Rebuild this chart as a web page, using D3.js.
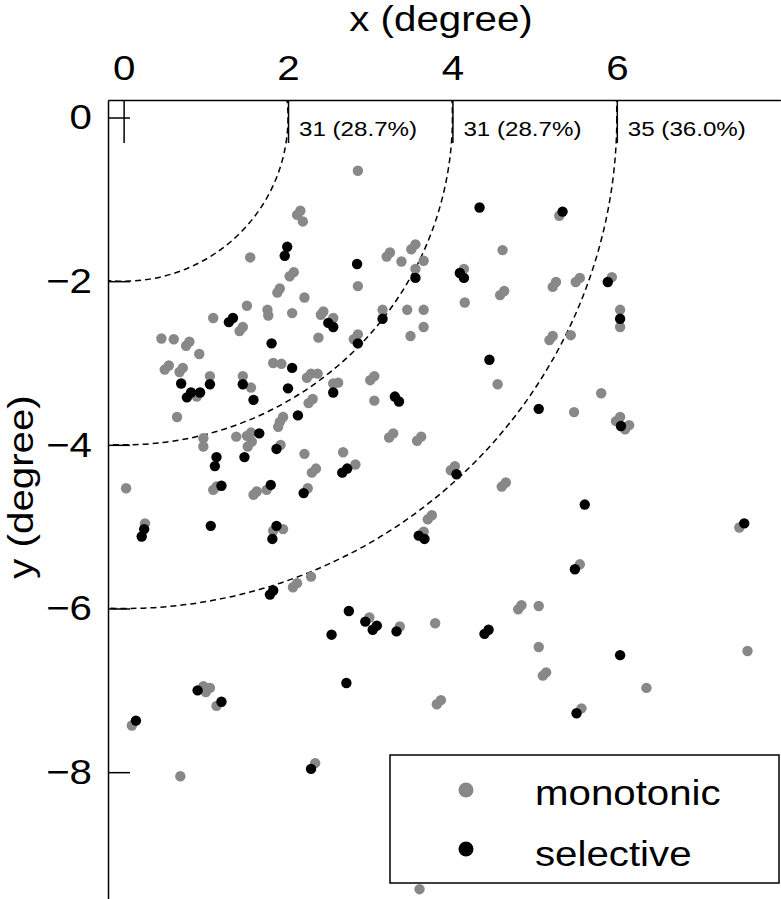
<!DOCTYPE html>
<meta charset="utf-8">

<!-- Load d3.js -->
<script src="https://d3js.org/d3.v7.min.js"></script>

<style>
    body { margin: 0; background: #fff; }
    text { font-family: "Liberation Sans", Arial, sans-serif; }
</style>

<body>
    <div id="scatter"></div>
</body>

<script>

    // monotonic cells (gray), position in degree
    var monoX = [2.15, 2.11, 2.18, 1.54, 2.07, 2.02, 1.90, 1.87, 2.20, 1.50, 1.75, 1.76, 2.05, 1.09, 1.45, 1.41,
        2.43, 2.40, 2.37, 0.46, 0.61, 0.80, 0.76, 0.92, 2.85, 4.61, 2.85, 3.24, 3.20, 3.38, 3.55, 3.50,
        3.65, 3.55, 4.14, 4.15, 4.63, 4.58, 5.26, 5.22, 2.55, 3.15, 3.45, 3.65, 3.65, 3.49, 2.85, 2.80,
        5.30, 5.55, 5.50, 5.94, 6.04, 6.04, 5.22, 5.18, 5.44, 0.55, 0.50, 0.72, 0.68, 1.05, 0.89, 1.45,
        1.55, 1.82, 1.92, 2.23, 2.28, 2.36, 2.25, 2.30, 0.65, 1.94, 1.90, 1.88, 0.97, 0.97, 1.37, 1.50,
        1.55, 1.56, 1.51, 1.91, 2.20, 2.34, 2.29, 0.03, 1.09, 1.13, 1.62, 1.58, 1.74, 2.24, 0.26, 1.82,
        1.94, 4.55, 2.55, 2.61, 3.05, 3.00, 3.05, 3.28, 3.23, 3.62, 3.57, 2.67, 2.82, 4.03, 3.98, 4.65,
        4.60, 3.75, 3.70, 3.65, 5.81, 5.48, 6.04, 5.99, 6.15, 6.10, 7.49, 2.11, 2.06, 2.28, 0.97, 1.05,
        1.00, 1.13, 0.10, 2.99, 3.36, 3.79, 4.84, 4.80, 5.05, 5.05, 5.14, 5.10, 3.86, 3.81, 5.55, 6.36,
        7.59, 5.57, 0.69, 2.33, 3.60];
    var monoY = [-1.14, -1.19, -1.27, -1.71, -1.89, -1.94, -2.09, -2.14, -2.20, -2.30, -2.35, -2.42, -2.39, -2.45, -2.56, -2.61,
        -2.37, -2.41, -2.69, -2.70, -2.71, -2.74, -2.79, -2.89, -0.65, -1.62, -2.06, -1.65, -1.70, -1.76, -1.55, -1.61,
        -1.75, -1.85, -1.85, -2.26, -2.12, -2.17, -2.01, -2.07, -2.45, -2.35, -2.35, -2.35, -2.56, -2.67, -2.65, -2.71,
        -1.20, -1.96, -2.01, -1.95, -2.35, -2.56, -2.67, -2.72, -2.66, -3.03, -3.08, -3.06, -3.11, -3.16, -3.41, -3.16,
        -3.30, -3.00, -3.01, -3.18, -3.13, -3.13, -3.49, -3.44, -3.66, -3.66, -3.72, -3.78, -3.92, -4.02, -3.90, -3.89,
        -3.85, -3.96, -4.02, -4.00, -4.11, -4.29, -4.34, -4.53, -4.55, -4.51, -4.57, -4.61, -4.55, -4.53, -4.96, -5.05,
        -5.03, -3.26, -3.25, -3.24, -3.16, -3.21, -3.46, -3.86, -3.91, -3.90, -3.95, -4.09, -4.24, -4.26, -4.31, -4.46,
        -4.51, -4.86, -4.91, -5.06, -3.37, -3.60, -3.66, -3.71, -3.76, -3.81, -5.01, -5.69, -5.74, -5.61, -6.95, -6.97,
        -7.02, -7.19, -7.43, -6.11, -6.22, -6.18, -5.96, -6.01, -5.97, -6.47, -6.78, -6.82, -7.12, -7.17, -5.46, -6.97,
        -6.52, -7.22, -8.05, -7.89, -9.43];

    // selective cells (black)
    var selX = [1.99, 1.96, 1.33, 1.28, 2.49, 1.80, 4.33, 2.84, 3.55, 4.09, 4.14, 2.55, 3.15, 2.85, 5.34, 5.89,
        6.04, 1.05, 0.70, 0.82, 0.77, 0.93, 1.45, 1.58, 2.05, 2.00, 2.55, 2.12, 1.65, 1.86, 1.13, 1.11,
        1.47, 1.19, 1.79, 2.19, 1.06, 0.25, 0.22, 1.86, 1.81, 4.45, 5.05, 3.30, 3.35, 2.72, 2.66, 4.05,
        3.59, 3.66, 6.05, 5.61, 7.55, 1.82, 1.78, 0.90, 1.19, 0.15, 2.74, 2.94, 3.08, 3.03, 3.32, 2.53,
        4.44, 4.39, 2.71, 5.49, 6.04, 5.51, 2.28];
    var selY = [-1.58, -1.69, -2.45, -2.50, -2.51, -2.76, -1.10, -1.79, -1.96, -1.90, -1.96, -2.56, -2.46, -2.76, -1.15, -2.01,
        -2.46, -3.26, -3.25, -3.36, -3.42, -3.36, -3.26, -3.45, -3.06, -3.31, -3.36, -3.64, -3.86, -4.05, -4.15, -4.26,
        -4.15, -4.50, -4.49, -4.59, -4.99, -5.03, -5.12, -4.99, -5.15, -2.96, -3.56, -3.41, -3.47, -4.29, -4.34, -4.36,
        -5.11, -5.15, -3.77, -4.73, -4.96, -5.78, -5.83, -7.00, -7.14, -7.37, -6.03, -6.16, -6.21, -6.26, -6.28, -6.32,
        -6.26, -6.31, -6.91, -5.52, -6.57, -7.28, -7.96];

    var xTicks = [0, 2, 4, 6];
    var yTicks = [0, -2, -4, -6, -8];
    var radii = [2, 4, 6];
    var ringLabels = ["31 (28.7%)", "31 (28.7%)", "35 (36.0%)"];
    var legendLabels = ["monotonic", "selective"];
    var colors = ["#888888", "#000000"];

    var width = 781, height = 899;
    var stretch = 1.15; // the lettering in the figure is a bit wider than Arial

    var svg = d3.select("#scatter")
        .append("svg")
        .attr("width", width)
        .attr("height", height);

    var x = d3.scaleLinear().domain([-0.19, 7.99]).range([108, 780.4]);
    var y = d3.scaleLinear().domain([0.214, -9.55]).range([100, 899]);

    svg.append("clipPath").attr("id", "plot")
        .append("rect")
        .attr("x", 108).attr("y", 100)
        .attr("width", width - 108).attr("height", height - 100);

    // dashed eccentricity rings
    svg.append("g")
        .attr("clip-path", "url(#plot)")
        .selectAll("ellipse")
        .data(radii)
        .enter()
        .append("ellipse")
        .attr("cx", x(0))
        .attr("cy", y(0))
        .attr("rx", function (d) { return x(d) - x(0); })
        .attr("ry", function (d) { return y(-d) - y(0); })
        .attr("fill", "none")
        .attr("stroke", "#000")
        .attr("stroke-width", 1.5)
        .attr("stroke-dasharray", "6,4");

    // top X axis, ticks pointing inside
    var gx = svg.append("g")
        .attr("transform", "translate(0,100)")
        .call(d3.axisTop(x).tickValues(xTicks).tickSize(-43).tickSizeOuter(0).tickPadding(20));
    gx.attr("font-size", null).attr("font-family", null);
    gx.selectAll("text")
        .attr("font-size", 35)
        .attr("fill", "#000")
        .attr("transform", "scale(" + stretch + ",1)");

    // left Y axis
    var gy = svg.append("g")
        .attr("transform", "translate(108,0)")
        .call(d3.axisLeft(y).tickValues(yTicks).tickSize(-22).tickSizeOuter(0).tickPadding(14));
    gy.attr("font-size", null).attr("font-family", null);
    gy.selectAll("text")
        .attr("font-size", 35)
        .attr("fill", "#000")
        .attr("transform", "scale(" + stretch + ",1)");

    svg.selectAll(".domain, .tick line")
        .attr("stroke", "#000")
        .attr("stroke-width", 1.5);

    // counts per ring
    svg.append("g")
        .selectAll("text")
        .data(ringLabels)
        .enter()
        .append("text")
        .attr("transform", function (d, i) {
            return "translate(" + (x(radii[i]) + 11) + ",136) scale(" + stretch + ",1)";
        })
        .attr("font-size", 21)
        .text(function (d) { return d; });

    // axis titles
    svg.append("text")
        .attr("text-anchor", "middle")
        .attr("transform", "translate(441,31) scale(" + stretch + ",1)")
        .attr("font-size", 35)
        .text("x (degree)");

    svg.append("text")
        .attr("text-anchor", "middle")
        .attr("transform", "translate(33,487) rotate(-90) scale(" + stretch + ",1)")
        .attr("font-size", 35)
        .text("y (degree)");

    // dots
    svg.append("g")
        .selectAll("circle")
        .data(monoX)
        .enter()
        .append("circle")
        .attr("cx", function (d) { return x(d); })
        .attr("cy", function (d, i) { return y(monoY[i]); })
        .attr("r", 5.2)
        .style("fill", colors[0]);

    svg.append("g")
        .selectAll("circle")
        .data(selX)
        .enter()
        .append("circle")
        .attr("cx", function (d) { return x(d); })
        .attr("cy", function (d, i) { return y(selY[i]); })
        .attr("r", 5.2)
        .style("fill", colors[1]);

    // legend
    var legend = svg.append("g");
    legend.append("rect")
        .attr("x", 390).attr("y", 755)
        .attr("width", 389).attr("height", 128)
        .attr("fill", "#fff")
        .attr("stroke", "#000")
        .attr("stroke-width", 1.5);
    legend.selectAll("circle")
        .data(legendLabels)
        .enter()
        .append("circle")
        .attr("cx", 466)
        .attr("cy", function (d, i) { return 790 + i * 59; })
        .attr("r", 7.5)
        .style("fill", function (d, i) { return colors[i]; });
    legend.selectAll("text")
        .data(legendLabels)
        .enter()
        .append("text")
        .attr("transform", function (d, i) {
            return "translate(535," + (805 + i * 61) + ") scale(" + stretch + ",1)";
        })
        .attr("font-size", 35)
        .text(function (d) { return d; });

</script>
